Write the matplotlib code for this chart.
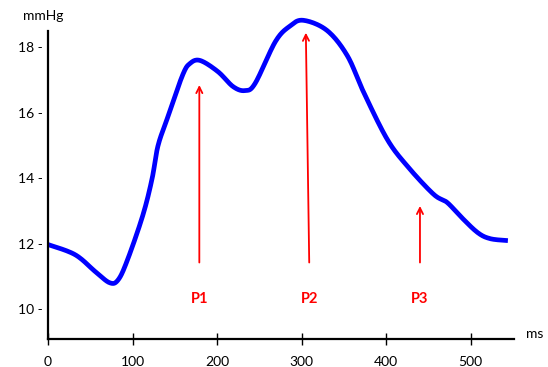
import numpy as np
import matplotlib
matplotlib.use("Agg")
import matplotlib.pyplot as plt

plt.rcParams['font.family'] = ['Lato', 'DejaVu Sans']

# pressure waveform
time_ms = [0, 32, 56, 73, 83, 94, 112, 123, 130, 141, 159, 168, 180, 201, 219, 233,
           245, 269, 286, 302, 330, 354, 373, 401, 425, 456, 472, 488, 508, 523, 544]
pressure = [11.97, 11.66, 11.14, 10.8, 10.89, 11.5, 12.85, 13.97, 14.98, 15.82, 17.14,
            17.51, 17.6, 17.26, 16.8, 16.68, 16.9, 18.18, 18.65, 18.83, 18.52, 17.75,
            16.65, 15.2, 14.37, 13.51, 13.26, 12.83, 12.34, 12.15, 12.09]

# P1/P2/P3 markers
peak_names = ['P1', 'P2', 'P3']
peak_base_x = [179, 309, 440]
peak_tip_x = [179, 305, 440]
peak_tip_y = [16.85, 18.45, 13.15]
arrow_base_y = 11.42
label_y = 10.3

x_ticks = [0, 100, 200, 300, 400, 500]
y_ticks = [10, 12, 14, 16, 18]


def catmull(xs, ys, n=20):
    """Catmull-Rom spline through the read points, just to smooth the drawing."""
    pts = np.column_stack([xs, ys])
    pts = np.vstack([pts[0], pts, pts[-1]])
    out = []
    for i in range(1, len(pts) - 2):
        p0, p1, p2, p3 = pts[i - 1], pts[i], pts[i + 1], pts[i + 2]
        for u in np.linspace(0, 1, n, endpoint=False):
            out.append(0.5 * ((2 * p1) + (-p0 + p2) * u
                              + (2 * p0 - 5 * p1 + 4 * p2 - p3) * u ** 2
                              + (-p0 + 3 * p1 - 3 * p2 + p3) * u ** 3))
    out.append(pts[-2])
    return np.array(out)


fig = plt.figure(figsize=(5.48, 3.67), dpi=100)
ax = fig.add_axes([0.0876, 0.0763, 0.850, 0.839])

curve = catmull(np.asarray(time_ms, float), np.asarray(pressure, float))
ax.plot(curve[:, 0], curve[:, 1], color='#0000ff', lw=3.4,
        solid_capstyle='butt', clip_on=False)

for name, bx, tx, ty in zip(peak_names, peak_base_x, peak_tip_x, peak_tip_y):
    ax.annotate('', xy=(tx, ty), xytext=(bx, arrow_base_y),
                arrowprops=dict(arrowstyle='->', color='red', lw=1.3, mutation_scale=11,
                                shrinkA=0, shrinkB=0))
    ax.text(bx, label_y, name, color='red', fontsize=10.5, fontweight='bold',
            ha='center', va='center')

ax.set_xlim(0, 551)
ax.set_ylim(9.08, 18.5)
for side in ['top', 'right']:
    ax.spines[side].set_visible(False)
for side in ['left', 'bottom']:
    ax.spines[side].set_linewidth(1.6)

ax.set_xticks(x_ticks)
ax.set_xticklabels([str(v) for v in x_ticks], fontsize=10)
ax.tick_params(axis='x', direction='inout', length=8, width=1, pad=8)
ax.set_yticks(y_ticks)
ax.set_yticklabels([f"{v} -" for v in y_ticks], fontsize=10)
ax.tick_params(axis='y', length=0, pad=4)

fig.text(535 / 548, 1 - 334 / 367, 'ms', fontsize=10, ha='center', va='center')
fig.text(43 / 548, 1 - 16 / 367, 'mmHg', fontsize=10, ha='center', va='center')

fig.savefig('out.png', dpi=100)
